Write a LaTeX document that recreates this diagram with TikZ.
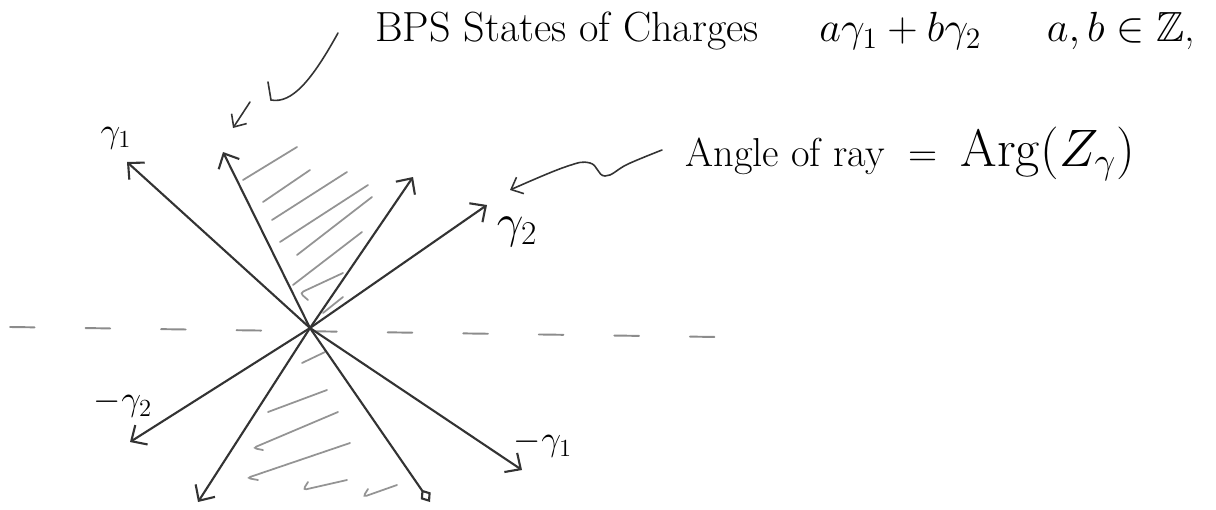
\documentclass[tikz,border=0pt]{standalone}
\usepackage{fix-cm}
\usepackage{amsmath}
\usepackage{amssymb}
\usepackage{tikz}
\usetikzlibrary{arrows.meta, positioning}

\begin{document}
\begin{tikzpicture}[
    x=0.02cm, y=-0.02cm,
    ray/.style={draw=black!80, line width=1.2pt, -{Straight Barb[length=2.4mm, width=4.6mm]}},
    hatch/.style={draw=black!42, line width=1pt, line cap=round, rounded corners=2pt},
    axis/.style={draw=black!45, line width=1.1pt, dash pattern=on 14pt off 29pt, line cap=round},
    pointer/.style={draw=black!80, line width=0.9pt, line cap=round, -{Straight Barb[length=2mm, width=3.6mm]}},
    note/.style={inner sep=0pt, font=\fontsize{24}{28}\selectfont},
    lbl/.style={inner sep=0pt, font=\fontsize{20}{24}\selectfont}
]
    \useasboundingbox (0,0) rectangle (1216,510);

    % origin and tips of the rays
    \coordinate (o) at (310,328);
    \coordinate (g1) at (127,162);
    \coordinate (ul) at (223,152);
    \coordinate (ur) at (413,177);
    \coordinate (g2) at (487,205);
    \coordinate (mg2) at (130,442);
    \coordinate (dl) at (198,502);
    \coordinate (dr) at (430,502);
    \coordinate (mg1) at (522,470);

    % real axis
    \coordinate (axl) at (10,327);
    \coordinate (axr) at (718,337);
    \draw[axis] (axl) -- (axr);

    % hatching of the two wedges
    \foreach \ax/\ay/\bx/\by in {243/180/297/147, 263/202/310/170, 272/220/347/172,
        280/242/368/185, 297/255/372/197, 293/285/362/232, 323/313/343/297,
        302/363/325/352, 268/412/327/390}
        \draw[hatch] (\ax,\ay) -- (\bx,\by);
    \foreach \ax/\ay/\bx/\by/\cx/\cy in {343/273/300/293/308/300, 338/412/253/448/263/450,
        350/443/247/478/258/480, 347/480/303/490/308/482, 397/485/363/497/368/489}
        \draw[hatch] (\ax,\ay) -- (\bx,\by) -- (\cx,\cy);

    % rays
    \foreach \tip in {g1, ul, ur, g2, mg2, dl, mg1}
        \draw[ray] (o) -- (\tip);
    \draw[ray, -{Diamond[open, length=3mm, width=2.4mm]}] (o) -- (dr);

    % ray labels
    \node[lbl] (lg1) at (116,138) {$\gamma_1$};
    \node[lbl, font=\fontsize{27}{32}\selectfont] (lg2) at (517,232) {$\gamma_2$};
    \node[lbl] (lmg2) at (123,404) {$-\gamma_2$};
    \node[lbl] (lmg1) at (543,444) {$-\gamma_1$};

    % captions
    \node[note, anchor=base west] (bps) at (375,42) {BPS States of Charges};
    \node[note, base right=1.2cm of bps] (comb) {$a\gamma_1+b\gamma_2$};
    \node[note, base right=1.3cm of comb] (ints) {$a,b\in\mathbb{Z}$,};
    \node[note, font=\fontsize{23}{28}\selectfont, anchor=base west] (angle) at (685,166)
        {Angle of ray ${}={}$ {\fontsize{30}{36}\selectfont$\mathrm{Arg}(Z_\gamma)$}};

    % pointers
    \coordinate (bp1) at (338,33);
    \coordinate (bp2) at (268,82);
    \draw[pointer, -] (bp1) .. controls (312,80) and (292,104) .. (271,100) -- (bp2);
    \coordinate (bp3) at (250,102);
    \coordinate (bp4) at (233,128);
    \draw[pointer] (bp3) -- (bp4);

    \coordinate (wv1) at (662,150);
    \coordinate (wv2) at (510,190);
    \draw[pointer] plot[smooth, tension=0.7] coordinates {(wv1) (628,164) (605,176) (590,163) (565,167) (wv2)};
\end{tikzpicture}
\end{document}
